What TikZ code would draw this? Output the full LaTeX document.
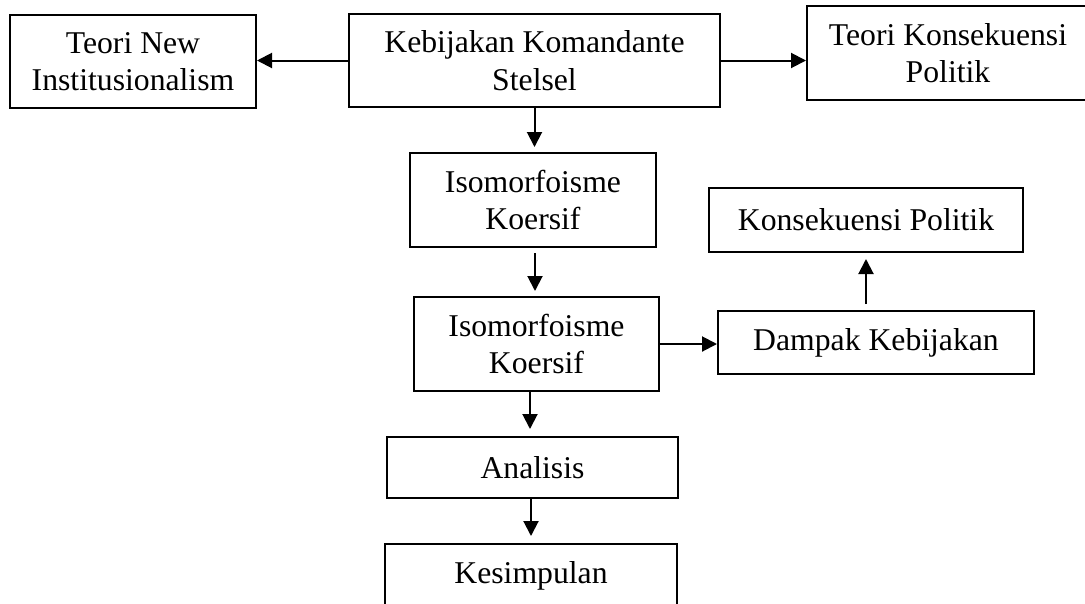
\documentclass[tikz,border=0pt]{standalone}
\usepackage{fontspec}
\setmainfont{Liberation Serif}
\usetikzlibrary{arrows.meta}

\begin{document}
\begin{tikzpicture}[
    x=1pt, y=-1pt,
    box/.style={rectangle, draw=black, line width=2pt, fill=white,
        align=center, inner sep=2pt,
        font=\fontsize{31.7}{37.6}\selectfont},
    link/.style={line width=2pt, -{Triangle[length=15pt,width=15pt]}}
]
    \clip (0,0) rectangle (1085,603);
    \node[box, minimum width=246pt, minimum height=93pt] (tnew) at (133,61.5) {Teori New\\Institusionalism};
    \node[box, minimum width=371pt, minimum height=93pt] (keb) at (534.5,60.5) {Kebijakan Komandante\\Stelsel};
    \node[box, minimum width=282pt, minimum height=94pt] (tkon) at (948,53) {Teori Konsekuensi\\Politik};
    \node[box, minimum width=246pt, minimum height=94pt] (iso1) at (533,200) {Isomorfoisme\\Koersif};
    \node[box, minimum width=314pt, minimum height=64pt] (kp) at (866,220) {Konsekuensi Politik};
    \node[box, minimum width=245pt, minimum height=94pt] (iso2) at (536.5,344) {Isomorfoisme\\Koersif};
    \node[box, minimum width=316pt, minimum height=63pt] (dampak) at (876,342.5) {Dampak Kebijakan};
    \node[box, minimum width=291pt, minimum height=61pt] (anal) at (532.5,467.5) {Analisis};
    \node[box, minimum width=292pt, minimum height=63pt] (kes) at (531,575.5) {Kesimpulan};
    \draw[link] (keb.west) -- (keb.west -| tnew.east);
    \draw[link] (keb.east) -- (keb.east -| tkon.west);
    \draw[link, shorten >=5pt] (keb.south) -- (keb.south |- iso1.north);
    \draw[link, shorten <=5pt, shorten >=5pt] ([xshift=2pt]iso1.south) -- ([xshift=2pt]iso1.south |- iso2.north);
    \draw[link, shorten >=7pt] ([xshift=-6.5pt]iso2.south) -- ([xshift=-6.5pt]iso2.south |- anal.north);
    \draw[link, shorten >=7pt] ([xshift=-1.5pt]anal.south) -- ([xshift=-1.5pt]anal.south |- kes.north);
    \draw[link] ([xshift=-2pt]iso2.east) -- (iso2.east -| dampak.west);
    \draw[link, shorten <=6pt, shorten >=6pt] (kp.south |- dampak.north) -- (kp.south);
\end{tikzpicture}
\end{document}
